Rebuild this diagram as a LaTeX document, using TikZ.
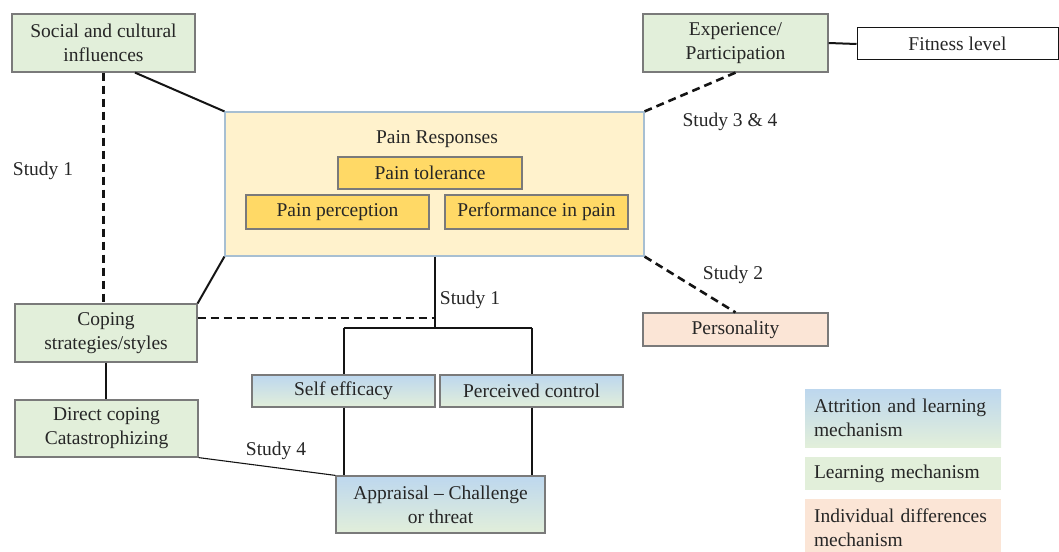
\documentclass[tikz,border=0pt]{standalone}
\usepackage{fontspec}
\setmainfont{Liberation Serif}
\definecolor{grn}{HTML}{E2EFDA}
\definecolor{blu}{HTML}{BDD7EE}
\definecolor{ylw}{HTML}{FFF2CC}
\definecolor{gld}{HTML}{FFD966}
\definecolor{pch}{HTML}{FBE5D6}
\definecolor{bord}{HTML}{7A7A7A}
\definecolor{pbord}{HTML}{A7BFD2}
\definecolor{txt}{HTML}{262626}
\definecolor{ln}{HTML}{141414}
\begin{document}
\begin{tikzpicture}[x=1pt,y=-1pt,
  font=\rmfamily\fontsize{19.5}{24}\selectfont,
  box/.style={draw=bord, line width=1.2pt, align=center, inner sep=0pt, text=txt},
  gbox/.style={box, fill=grn},
  sbox/.style={box, top color=blu, middle color=grn, bottom color=grn},
  ybox/.style={box, fill=gld, draw=bord},
  legbox/.style={inner sep=0pt, text=txt, align=left, text width=178pt, minimum width=196pt},
  lbl/.style={text=txt, inner sep=1pt},
  solidln/.style={draw=ln, line width=2pt},
  thinln/.style={draw=ln, line width=1.1pt},
  dashln/.style={draw=ln, line width=2.6pt, dash pattern=on 8pt off 5pt}
]
\useasboundingbox (0,0) rectangle (1059,551);

% main boxes
\node[gbox, minimum width=183pt, minimum height=58pt] (soc) at (103.5,43) {Social and cultural\\influences};
\node[gbox, minimum width=185pt, minimum height=58pt] (exp) at (735.5,43) {Experience/\\Participation};
\node[box, draw=ln, line width=1pt, minimum width=201pt, minimum height=32pt] (fit) at (957.5,44) {Fitness level};
\node[box, draw=pbord, fill=ylw, minimum width=419pt, minimum height=144pt] (pain) at (434.5,184) {};
\node[lbl] (ptitle) at (437,139) {Pain Responses};
\node[ybox, minimum width=184pt, minimum height=32pt] (tol) at (430,173) {Pain tolerance};
\node[ybox, minimum width=183pt, minimum height=34pt] (perc) at (337.5,212) {Pain perception};
\node[ybox, minimum width=183pt, minimum height=34pt] (perf) at (536.5,212) {Performance in pain};
\node[gbox, minimum width=182pt, minimum height=58pt] (cop) at (106,333) {Coping\\strategies/styles};
\node[gbox, minimum width=183pt, minimum height=57pt] (dc) at (106.5,428.5) {Direct coping\\Catastrophizing};
\node[sbox, minimum width=183pt, minimum height=32pt] (se) at (343.5,391) {Self efficacy};
\node[sbox, minimum width=183pt, minimum height=32pt] (pc) at (531.5,391) {Perceived control};
\node[sbox, minimum width=209pt, minimum height=57pt] (ap) at (440.5,504.5) {Appraisal \textendash{} Challenge\\or threat};
\node[box, fill=pch, minimum width=185pt, minimum height=33pt] (per) at (735.5,329.5) {Personality};

% legend
\node[legbox, top color=blu, middle color=grn, bottom color=grn, minimum height=58pt] (lg1) at (903,418) {Attrition and learning\\mechanism};
\node[legbox, fill=grn, minimum height=33pt] (lg2) at (903,473.5) {Learning mechanism};
\node[legbox, fill=pch, minimum height=58pt] (lg3) at (903,528) {Individual differences\\mechanism};

% labels
\node[lbl] (s1a) at (43,171) {Study 1};
\node[lbl] (s1b) at (470,300) {Study 1};
\node[lbl] (s4) at (276,451) {Study 4};
\node[lbl] (s34) at (730,122) {Study 3 \& 4};
\node[lbl] (s2) at (733,275) {Study 2};

% junction coordinates
\coordinate (jd) at (434.5,318);
\coordinate (jt) at (434.5,328);

% connectors
\draw[solidln] ([xshift=31.5pt]soc.south) -- (pain.north west);
\draw[dashln] (soc.south) -- (soc.south |- cop.north);
\draw[solidln] (pain.south west) -- (cop.north east);
\draw[dashln] (cop.east |- jd) -- (jd);
\draw[solidln] (pain.south) -- (jt);
\draw[solidln] (se.north |- jt) -- (pc.north |- jt);
\draw[solidln] (se.north |- jt) -- (se.north);
\draw[solidln] (pc.north |- jt) -- (pc.north);
\draw[solidln] (se.south) -- (se.south |- ap.north);
\draw[solidln] (pc.south) -- (pc.south |- ap.north);
\draw[solidln] (cop.south) -- (cop.south |- dc.north);
\draw[thinln] (dc.south east) -- (ap.north west);
\draw[dashln] (exp.south) -- (pain.north east);
\draw[solidln] (exp.east) -- (fit.west);
\draw[dashln] (pain.south east) -- (per.north);
\end{tikzpicture}
\end{document}
